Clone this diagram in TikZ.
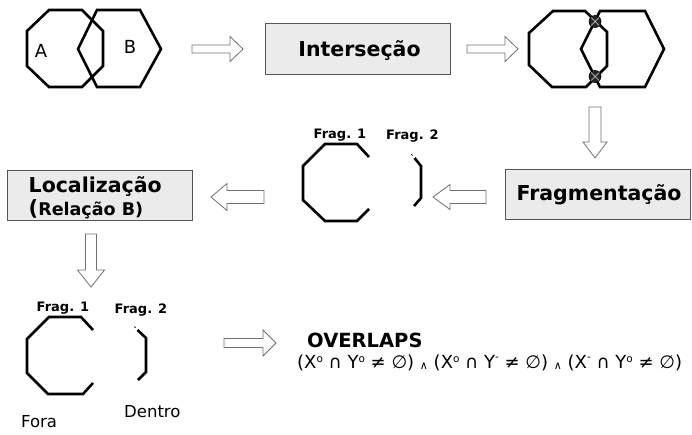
\documentclass[tikz,border=0pt]{standalone}
\usepackage{fontspec}
\setmainfont{DejaVu Sans}
\usetikzlibrary{calc}
\definecolor{boxfill}{HTML}{EBEBEB}
\definecolor{boxline}{HTML}{555555}
\definecolor{arrline}{HTML}{707070}
\newcommand\ArrR[6]{\draw[barrow] (#1,#3-#4) -- (#2-#6,#3-#4) -- (#2-#6,#3-#5) -- (#2,#3) -- (#2-#6,#3+#5) -- (#2-#6,#3+#4) -- (#1,#3+#4) -- cycle;}
\newcommand\ArrL[6]{\draw[barrow] (#2,#3-#4) -- (#1+#6,#3-#4) -- (#1+#6,#3-#5) -- (#1,#3) -- (#1+#6,#3+#5) -- (#1+#6,#3+#4) -- (#2,#3+#4) -- cycle;}
\newcommand\ArrD[6]{\draw[barrow] (#1-#4,#2) -- (#1-#4,#3-#6) -- (#1-#5,#3-#6) -- (#1,#3) -- (#1+#5,#3-#6) -- (#1+#4,#3-#6) -- (#1+#4,#2) -- cycle;}
\newcommand\SupO{\raisebox{0.6ex}{\fontsize{10.5}{10}\selectfont o}}
\newcommand\SupM{\raisebox{0.75ex}{\fontsize{10.5}{10}\selectfont -}}
\newcommand\AndS{\raisebox{-0.15ex}{\fontsize{11}{10}\selectfont ∧}}
\begin{document}
\begin{tikzpicture}[x=1pt,y=-1pt,
  poly/.style={line width=2.6pt},
  barrow/.style={draw=arrline, line width=0.8pt, fill=white},
  graybox/.style={draw=boxline, fill=boxfill, line width=0.9pt, inner sep=0pt},
  bigtxt/.style={font=\bfseries\fontsize{20.5}{24}\selectfont, inner sep=0pt},
  fraglbl/.style={font=\bfseries\fontsize{13}{14}\selectfont, inner sep=0pt, anchor=base},
  lbl/.style={font=\fontsize{16.5}{19}\selectfont, inner sep=0pt, anchor=base west}]
\useasboundingbox (0,0) rectangle (692,434);

% ---- top left: A and B
\draw[poly] (49,10) -- (82,10) -- (103,31) -- (103,66) -- (82,87) -- (49,87) -- (27,66) -- (27,31) -- cycle;
\draw[poly] (97,10) -- (140,10) -- (161,49) -- (140,87) -- (97,87) -- (78,49) -- cycle;
\node[font=\fontsize{18}{20}\selectfont, inner sep=0pt, anchor=base] (la) at (41,57) {A};
\node[font=\fontsize{18}{20}\selectfont, inner sep=0pt, anchor=base] (lb) at (130,53) {B};

\ArrR{192}{243}{49}{4}{12.5}{13}

% ---- Interseção box
\node[graybox, minimum width=185pt, minimum height=51pt] (inter) at (358,48.5) {};
\node[bigtxt, anchor=base] (intertxt) at (359.5,56) {Interseção};

\ArrR{467}{518}{49}{4}{12.5}{13}

% ---- top right: intersection
\draw[poly] (553,11) -- (585,11) -- (607,32) -- (607,66) -- (586,87) -- (552,87) -- (529,65) -- (529,33) -- cycle;
\draw[poly] (600,11) -- (645,11) -- (664,49) -- (645,87) -- (600,87) -- (581,49) -- cycle;
\foreach \cy/\nm in {21.5/c1, 76.5/c2}{
  \node[circle, fill=black!85, draw=black, line width=0.6pt, minimum size=12pt, inner sep=0pt] (\nm) at (595,\cy) {};
  \draw[gray!55, line width=0.7pt] ($(\nm)+(-4,-4)$) -- ($(\nm)+(4,4)$) ($(\nm)+(-4,4)$) -- ($(\nm)+(4,-4)$);
}

\ArrD{595}{107}{158}{6}{12}{16}

% ---- Fragmentação box
\node[graybox, minimum width=185pt, minimum height=50pt] (frag) at (598,194) {};
\node[bigtxt, anchor=base] (fragtxt) at (599,200) {Fragmentação};

\ArrL{433}{486}{197}{6.5}{12.5}{17}

% ---- middle fragments
\draw[poly] (369,157) -- (357,144) -- (325,144) -- (303,166) -- (303,200) -- (325,221) -- (357,221) -- (369,209);
\draw[poly] (414.5,158) -- (421,166) -- (421,198) -- (414,206);
\draw[line width=0.8pt] (411.5,154) -- (412.5,155.5);
\node[fraglbl] (mf1) at (340,138) {Frag. 1};
\node[fraglbl] (mf2) at (412.5,139) {Frag. 2};

\ArrL{211}{264}{197}{6.5}{13.5}{16}

% ---- Localização box
\node[graybox, minimum width=185pt, minimum height=50pt] (loc) at (99.5,195) {};
\node[bigtxt, anchor=base west] (loctxt) at (28.5,192) {Localização};
\node[inner sep=0pt, anchor=base west] (reltxt) at (28.5,215) {\bfseries\fontsize{21}{24}\selectfont (\fontsize{17.5}{20}\selectfont Relação B)};

\ArrD{91}{234}{287}{5.5}{13.5}{17}

% ---- bottom fragments
\draw[poly] (93,330) -- (81,317) -- (49,317) -- (27,339) -- (27,373) -- (48,394) -- (83,394) -- (93,383);
\draw[poly] (137.5,330) -- (146,338) -- (146,372) -- (138,380);
\draw[line width=0.8pt] (134.5,326.5) -- (135.5,328);
\node[fraglbl] (bf1) at (63,311) {Frag. 1};
\node[fraglbl] (bf2) at (141,313) {Frag. 2};
\node[lbl] (fora) at (21,427) {Fora};
\node[lbl] (dentro) at (124,417) {Dentro};

\ArrR{224}{276}{343}{4.5}{13}{13}

% ---- OVERLAPS
\node[inner sep=0pt, anchor=base west, font=\bfseries\fontsize{19.5}{22}\selectfont] (ovl) at (307,347) {OVERLAPS};
\node[inner sep=0pt, anchor=base west, font=\fontsize{18}{18}\selectfont] (formula) at (297,368)
  {(X\SupO\ ∩ Y\SupO\ ≠ ∅) \AndS\ (X\SupO\ ∩ Y\SupM\ ≠ ∅) \AndS\ (X\SupM\ ∩ Y\SupO\ ≠ ∅)};
\end{tikzpicture}
\end{document}
